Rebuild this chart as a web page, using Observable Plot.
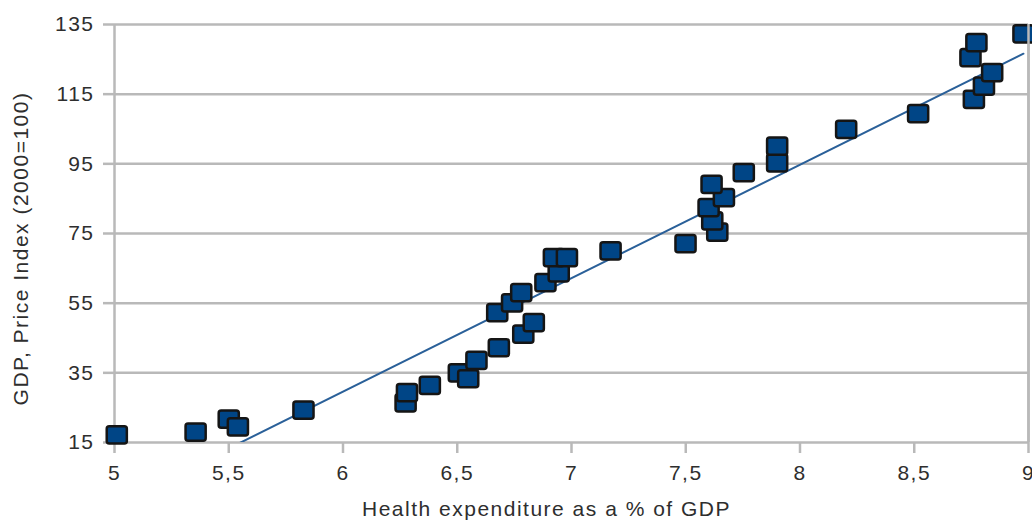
<!DOCTYPE html>
<html>
<head>
<meta charset="utf-8">
<script src="https://cdn.jsdelivr.net/npm/d3@7"></script>
<script src="https://cdn.jsdelivr.net/npm/@observablehq/plot@0.6"></script>
<style>
  html, body { margin: 0; padding: 0; background: #fff; }
</style>
</head>
<body>
<div id="chart"></div>
<script>
// Health expenditure as % of GDP (x) vs GDP price index, 2000=100 (y)
const healthExp = [5.01, 5.355, 5.50, 5.54, 5.827, 6.274, 6.28, 6.38, 6.507, 6.548,
  6.584, 6.682, 6.789, 6.835, 6.675, 6.74, 6.78, 6.886, 6.944, 6.923,
  6.98, 7.171, 7.499, 7.638, 7.616, 7.60, 7.667, 7.613, 7.754, 7.90,
  7.90, 8.202, 8.517, 8.761, 8.805, 8.841, 8.746, 8.772, 8.978];
const priceIndex = [17.2, 18.0, 21.7, 19.5, 24.3, 26.4, 29.3, 31.4, 35.0, 33.3,
  38.6, 42.2, 46.1, 49.4, 52.3, 55.1, 58.0, 60.9, 63.7, 68.1,
  68.1, 70.0, 72.1, 75.4, 78.6, 82.4, 85.3, 89.1, 92.5, 95.3,
  100.1, 104.9, 109.4, 113.5, 117.3, 121.2, 125.5, 129.8, 132.3];
const xTicks = [5, 5.5, 6, 6.5, 7, 7.5, 8, 8.5, 9];
const yTicks = [15, 35, 55, 75, 95, 115, 135];
const xLabel = "Health expenditure as a % of GDP";
const yLabel = "GDP, Price Index (2000=100)";

const data = healthExp.map((x, i) => ({x, y: priceIndex[i]}));

const gridColor = "#b9b9b9";
const textColor = "#2e2e2e";

// slightly wide rounded square marker
const wideSquare = {
  draw(ctx, size) {
    const h = Math.sqrt(size / Math.PI);
    const w = h * 1.17;
    const c = 2.5;
    ctx.moveTo(-w + c, -h);
    ctx.lineTo(w - c, -h);
    ctx.arcTo(w, -h, w, -h + c, c);
    ctx.lineTo(w, h - c);
    ctx.arcTo(w, h, w - c, h, c);
    ctx.lineTo(-w + c, h);
    ctx.arcTo(-w, h, -w, h - c, c);
    ctx.lineTo(-w, -h + c);
    ctx.arcTo(-w, -h, -w + c, -h, c);
    ctx.closePath();
  }
};

const fmt = d => String(d).replace(".", ",");

const chart = Plot.plot({
  width: 1032,
  height: 520,
  marginLeft: 114,
  marginRight: 4,
  marginTop: 24,
  marginBottom: 78,
  style: {fontFamily: "'Liberation Sans', Arial, sans-serif", letterSpacing: "1.5px", background: "#fff"},
  x: {domain: [5, 9]},
  y: {domain: [15, 135]},
  marks: [
    Plot.gridY(yTicks, {stroke: gridColor, strokeOpacity: 1, strokeWidth: 2.5}),
    Plot.ruleX([5, 9], {stroke: gridColor, strokeWidth: 2.5}),
    Plot.axisY(yTicks, {tickSize: 11, tickPadding: 9, stroke: gridColor, strokeWidth: 2.5, strokeOpacity: 1, fill: textColor, fontSize: 21, label: null, tickFormat: d => d}),
    Plot.axisX(xTicks, {tickSize: 11, tickPadding: 12, stroke: gridColor, strokeWidth: 2.5, strokeOpacity: 1, fill: textColor, fontSize: 21, label: null, tickFormat: fmt}),
    Plot.linearRegressionY(data, {x: "x", y: "y", ci: 0, stroke: "#2a6099", strokeWidth: 2, clip: true}),
    Plot.dot(data, {x: "x", y: "y", symbol: wideSquare, r: 8.6, fill: "#004586", stroke: "#151515", strokeWidth: 2.5}),
    Plot.ruleX([9], {stroke: gridColor, strokeWidth: 2.5}),
    Plot.text([yLabel], {frameAnchor: "left", textAnchor: "middle", lineAnchor: "middle", rotate: -90, dx: -93, dy: 15, fontSize: 21, fill: textColor}),
    Plot.text([xLabel], {frameAnchor: "bottom", textAnchor: "middle", lineAnchor: "middle", dx: -25, dy: 67, fontSize: 21, fill: textColor})
  ]
});
document.getElementById("chart").appendChild(chart);
</script>
</body>
</html>
